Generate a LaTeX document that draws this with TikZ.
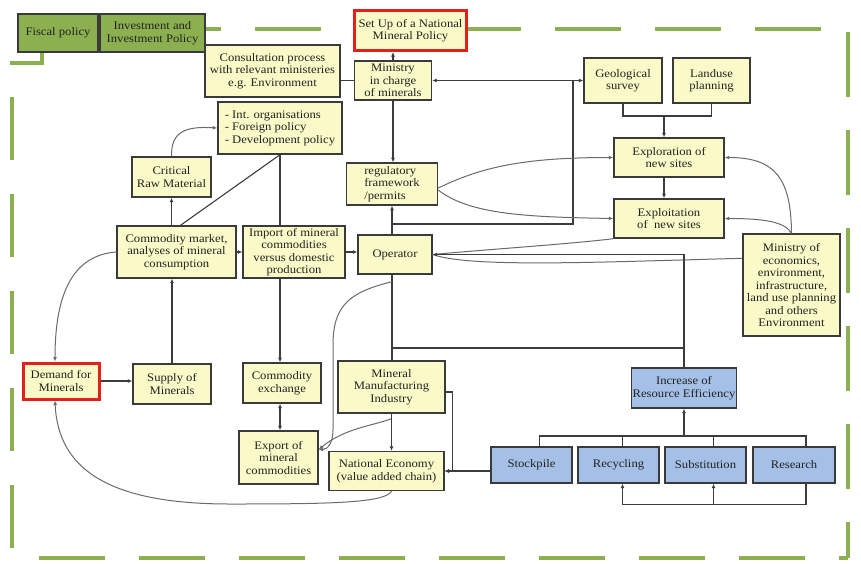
\documentclass[tikz,border=0pt]{standalone}
\usepackage{fontspec}
\setmainfont[FakeStretch=1.1]{Liberation Serif}
\usetikzlibrary{arrows.meta,calc}
\definecolor{yfill}{HTML}{FAFAC8}
\definecolor{bfill}{HTML}{A4C0E6}
\definecolor{gfill}{HTML}{8CB050}
\definecolor{gframe}{HTML}{8CB050}
\definecolor{redc}{HTML}{E4201C}
\definecolor{bordc}{HTML}{3A3A3A}
\definecolor{linec}{HTML}{3C3C3C}
\definecolor{curvec}{HTML}{6A6A6A}
\definecolor{txtc}{HTML}{222222}
\tikzset{
  base/.style={draw=bordc, line width=1.4pt, align=center, inner sep=1pt,
    font=\fontsize{11.5}{12.5}\selectfont, text=txtc},
  yb/.style={base, fill=yfill},
  bb/.style={base, fill=bfill},
  gb/.style={base, fill=gfill},
  rb/.style={base, fill=yfill, draw=redc, line width=3pt},
  conn/.style={draw=linec, line width=1.1pt},
  arr/.style={conn, -{Latex[length=4.5pt,width=4pt]}},
  darr/.style={conn, {Latex[length=4.5pt,width=4pt]}-{Latex[length=4.5pt,width=4pt]}},
  curve/.style={draw=curvec, line width=1pt},
  carr/.style={curve, -{Latex[length=4.5pt,width=4pt]}},
  gdash/.style={draw=gframe, line width=4pt, dash pattern=on 66pt off 34pt},
}
\begin{document}
\begin{tikzpicture}[x=1pt,y=-1pt]
\useasboundingbox (0,0) rectangle (861,563);
\fill[white] (0,0) rectangle (861,563);

% green dashed frame
\draw[gdash, dash phase=50pt] (205,29) -- (848,29);
\draw[gdash, dash pattern=on 65pt off 33pt, dash phase=95pt] (848,29) -- (848,558);
\draw[gdash, dash phase=57pt] (848,558) -- (12,558);
\draw[gdash, dash pattern=on 63pt off 34pt, dash phase=87pt] (12,558) -- (12,63);
\draw[draw=gframe, line width=4pt] (10,63) -- (42,63) -- (42,50);

% boxes
\node[gb, minimum width=80pt, minimum height=38pt] (fiscal) at (58,33) {Fiscal policy};
\node[gb, minimum width=105pt, minimum height=38pt] (invest) at (152.5,33) {Investment and\\Investment Policy};
\node[yb, minimum width=135pt, minimum height=52pt] (consult) at (272.5,71) {Consultation process\\with relevant ministeries\\e.g. Environment};
\node[rb, minimum width=112pt, minimum height=40pt] (setup) at (410.5,30.5) {Set Up of a National\\Mineral Policy};
\node[yb, minimum width=77pt, minimum height=39pt] (ministry) at (393,80.5) {Ministry\\in charge\\of minerals};
\node[yb, minimum width=124pt, minimum height=52pt, align=left] (intorg) at (280,128) {- Int. organisations\\- Foreign policy\\- Development policy};
\node[yb, minimum width=79pt, minimum height=40pt] (critical) at (171.5,177) {Critical\\Raw Material};
\node[yb, minimum width=91pt, minimum height=42pt, align=left] (regul) at (392,184) {regulatory\\framework\\/permits};
\node[yb, minimum width=78pt, minimum height=45pt] (geo) at (623,80.5) {Geological\\survey};
\node[yb, minimum width=77pt, minimum height=45pt] (land) at (711.5,80.5) {Landuse\\planning};
\node[yb, minimum width=110pt, minimum height=39pt] (explor) at (669,157.5) {Exploration of\\new sites};
\node[yb, minimum width=110pt, minimum height=39pt] (exploit) at (669,218.5) {Exploitation\\of\ \ new sites};
\node[yb, minimum width=97pt, minimum height=102pt] (moe) at (791.5,285) {Ministry of\\economics,\\environment,\\infrastructure,\\land use planning\\and others\\Environment};
\node[yb, minimum width=119pt, minimum height=52pt] (commkt) at (176.5,252) {Commodity market,\\analyses of mineral\\consumption};
\node[yb, minimum width=102pt, minimum height=52pt] (import) at (294,252) {Import of mineral\\commodities\\versus domestic\\production};
\node[yb, minimum width=74pt, minimum height=39pt] (operator) at (395,254.5) {Operator};
\node[rb, minimum width=76pt, minimum height=36pt] (demand) at (61,381) {Demand for\\Minerals};
\node[yb, minimum width=78pt, minimum height=40pt] (supply) at (172,384) {Supply of\\Minerals};
\node[yb, minimum width=78pt, minimum height=40pt] (cexch) at (282,383) {Commodity\\exchange};
\node[yb, minimum width=107pt, minimum height=52pt] (mmi) at (391.5,387) {Mineral\\Manufacturing\\Industry};
\node[yb, minimum width=79pt, minimum height=53pt] (export) at (278.5,457.5) {Export of\\mineral\\commodities};
\node[yb, minimum width=115pt, minimum height=39pt] (natec) at (386.5,471) {National Economy\\(value added chain)};
\node[bb, minimum width=100pt, minimum height=40pt] (increase) at (684,388) {Increase of\\Resource Efficiency};
\node[bb, minimum width=81pt, minimum height=36pt] (stock) at (531.5,465) {Stockpile};
\node[bb, minimum width=81pt, minimum height=36pt] (recyc) at (618.5,465) {Recycling};
\node[bb, minimum width=81pt, minimum height=36pt] (subst) at (705.5,465) {Substitution};
\node[bb, minimum width=82pt, minimum height=36pt] (research) at (794,465) {Research};

% coordinates
\coordinate (rj) at (573,224);
\coordinate (hj) at (684,348);
\coordinate (glj) at (664,116);
\coordinate (ib) at (684,436);
\coordinate (s1) at ($(stock.north)+(8,0)$);
\coordinate (s2) at ($(recyc.north)+(4,0)$);
\coordinate (s3) at ($(subst.north)+(8,0)$);
\coordinate (s4) at ($(research.north)+(12,0)$);
\coordinate (b2) at ($(recyc.south)+(4,0)$);
\coordinate (b3) at ($(subst.south)+(8,0)$);
\coordinate (b4) at ($(research.south)+(12,0)$);
\coordinate (bb) at ($(b4)+(0,21)$);

% top area
\draw[arr] (ministry.north) -- (ministry.north |- setup.south);
\draw[conn] (consult.east |- ministry.west) -- (ministry.west);
\draw[arr] (ministry.south) -- (ministry.south |- regul.north);
\draw[arr] (regul.south |- operator.north) -- (regul.south);
\draw[conn] (regul.south |- rj) -- (rj) -- (rj |- ministry.east);
\draw[arr] (rj |- ministry.east) -- (ministry.east);
\draw[arr] (rj |- geo.west) -- (geo.west);
\draw[conn] (geo.south) |- (glj) -| (land.south);
\draw[arr] (glj) -- (glj |- explor.north);
\draw[arr] (glj |- explor.south) -- (glj |- exploit.north);
\draw[carr] ($(regul.east)+(0,4)$) .. controls (480,168) and (520,157.5) .. (explor.west);
\draw[carr] ($(regul.east)+(0,6)$) .. controls (470,215) and (530,217) .. (exploit.west);
\draw[carr] (moe.north) .. controls (791,178) and (775,157.5) .. (explor.east);
\draw[carr] (moe.north) .. controls (785,222) and (765,218.5) .. (exploit.east);

% operator
\draw[curve] (operator.east) .. controls (480,250) and (570,244) .. (exploit.south west);
\draw[curve] (operator.east) .. controls (470,268) and (600,262) .. ($(moe.north west)+(0,25)$);
\draw[arr] (increase.north) -- (increase.north |- operator.east) -- (operator.east);
\draw[conn] (regul.south |- operator.south) -- (regul.south |- mmi.north);
\draw[conn] (regul.south |- hj) -- (hj);

% left part
\draw[arr] (critical.south |- commkt.north) -- (critical.south);
\draw[carr] (critical.north) .. controls (171,132) and (185,126) .. (intorg.west);
\draw[conn] (intorg.south) -- ($(commkt.north)+(4,0)$);
\draw[conn] (intorg.south) -- (intorg.south |- import.north);
\draw[arr] (intorg.south |- import.south) -- (intorg.south |- cexch.north);
\draw[arr] (commkt.east) -- (import.west);
\draw[arr] (import.east) -- (import.east -| operator.west);
\draw[arr] (supply.north) -- (supply.north |- commkt.south);
\draw[carr] (commkt.west) .. controls (75,255) and (55,290) .. ($(demand.north)+(-6,0)$);
\draw[arr] (demand.east) -- (demand.east -| supply.west);
\draw[darr] (intorg.south |- cexch.south) -- (intorg.south |- export.north);

% lower middle
\draw[carr] ($(regul.south |- operator.south)+(0,7)$) .. controls (350,292) and (333,305) .. (333,345) -- (333,430) .. controls (333,442) and (328,449.5) .. ($(export.east)+(0,-8)$);
\draw[carr] ($(mmi.south)+(0,5)$) .. controls (372,426) and (345,428) .. ($(export.east)+(0,-8)$);
\draw[arr] (mmi.south) -- (mmi.south |- natec.north);
\draw[arr] ($(mmi.east)+(0,5)$) -- ++(7,0) |- (natec.east);
\draw[arr] (stock.west |- natec.east) -- (natec.east);
\draw[carr] ($(natec.south)+(5,0)$) .. controls (385,503) and (330,504) .. (230,504) .. controls (110,504) and (58,470) .. ($(demand.south)+(-6,0)$);

% resource efficiency
\draw[conn] (s1) -- (s1 |- ib) -- (s4 |- ib) -- (s4);
\draw[conn] (s2) -- (s2 |- ib);
\draw[conn] (s3) -- (s3 |- ib);
\draw[arr] (ib) -- (increase.south);
\draw[conn] (b4) -- (bb) -- (b2 |- bb);
\draw[arr] (b2 |- bb) -- (b2);
\draw[arr] (b3 |- bb) -- (b3);
\end{tikzpicture}
\end{document}
